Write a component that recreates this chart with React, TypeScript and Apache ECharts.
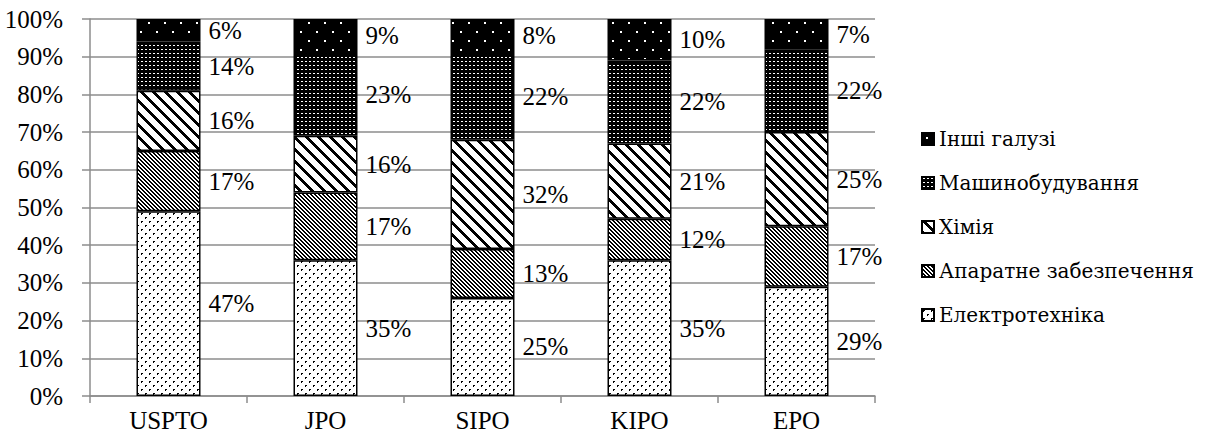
import React, { useEffect, useRef } from "react";
import * as echarts from "echarts";

const CATEGORIES = ["USPTO", "JPO", "SIPO", "KIPO", "EPO"];
const SERIES_NAMES = [
  "Електротехніка",
  "Апаратне забезпечення",
  "Хімія",
  "Машинобудування",
  "Інші галузі",
];
// Bar shares (%)
const ELECTRO = [49, 36, 26, 36, 29];
const HARDWARE = [16, 18, 13, 11, 16];
const CHEMISTRY = [16, 15, 29, 20, 25];
const MACHINERY = [13, 22, 23, 22, 22];
const OTHER = [6, 9, 9, 11, 8];
// Printed data labels (%)
const ELECTRO_LABELS = [47, 35, 25, 35, 29];
const HARDWARE_LABELS = [17, 17, 13, 12, 17];
const CHEMISTRY_LABELS = [16, 16, 32, 21, 25];
const MACHINERY_LABELS = [14, 23, 22, 22, 22];
const OTHER_LABELS = [6, 9, 8, 10, 7];
// Y axis
const Y_MIN = 0;
const Y_MAX = 100;
const Y_STEP = 10;

const FONT = "Liberation Serif";
const LEGEND_FONT = "DejaVu Serif";
const GRID_COLOR = "#8c8c8c";

function makeTile(w: number, h: number, pixel: (x: number, y: number) => boolean) {
  const c = document.createElement("canvas");
  c.width = w;
  c.height = h;
  const ctx = c.getContext("2d")!;
  const img = ctx.createImageData(w, h);
  for (let y = 0; y < h; y++) {
    for (let x = 0; x < w; x++) {
      const i = (y * w + x) * 4;
      const v = pixel(x, y) ? 0 : 255;
      img.data[i] = v;
      img.data[i + 1] = v;
      img.data[i + 2] = v;
      img.data[i + 3] = 255;
    }
  }
  ctx.putImageData(img, 0, 0);
  return { image: c, repeat: "repeat" } as any;
}

function buildPatterns() {
  const mod = (a: number, p: number) => ((a % p) + p) % p;
  // white with sparse black dots
  const dots = makeTile(8, 8, (x, y) =>
    (x >= 1 && x <= 2 && y === 1) || (x >= 5 && x <= 6 && y === 5) ||
    (x === 1 && y === 2) || (x === 5 && y === 6)
  );
  // narrow downward diagonal stripes
  const narrow = makeTile(4, 4, (x, y) => mod(x - y, 4) < 2);
  // wide downward diagonal stripes
  const wide = makeTile(12, 12, (x, y) => mod(x - y, 12) < 4);
  // black with small white grid squares
  const grid = makeTile(4, 4, (x, y) => !((x === 1 || x === 2) && y === 1));
  // black with sparse white dots
  const darkDots = makeTile(16, 18, (x, y) =>
    !((x >= 4 && x <= 5 && y >= 4 && y <= 5) || (x >= 12 && x <= 13 && y >= 13 && y <= 14))
  );
  return [dots, narrow, wide, grid, darkDots];
}

export default function App() {
  const ref = useRef<HTMLDivElement>(null);

  useEffect(() => {
    const chart = echarts.init(ref.current!, null, { renderer: "svg" });
    const patterns = buildPatterns();
    const values = [ELECTRO, HARDWARE, CHEMISTRY, MACHINERY, OTHER];
    const labels = [ELECTRO_LABELS, HARDWARE_LABELS, CHEMISTRY_LABELS, MACHINERY_LABELS, OTHER_LABELS];

    const series = SERIES_NAMES.map((name, si) => ({
      name,
      type: "bar",
      stack: "total",
      barWidth: 64,
      data: values[si],
      itemStyle: {
        color: patterns[si],
        borderColor: "#000",
        borderWidth: 1.5,
      },
      label: {
        show: true,
        position: "right",
        distance: 8,
        color: "#000",
        fontFamily: FONT,
        fontSize: 25,
        formatter: (p: any) => labels[si][p.dataIndex] + "%",
      },
      emphasis: { disabled: true },
    }));

    chart.setOption({
      animation: false,
      backgroundColor: "#fff",
      textStyle: { fontFamily: FONT },
      grid: { left: 90, right: 332, top: 19, bottom: 41, containLabel: false },
      legend: {
        orient: "vertical",
        left: 916,
        top: 124,
        itemWidth: 12,
        itemHeight: 12,
        itemGap: 24,
        icon: "rect",
        data: [...SERIES_NAMES].reverse(),
        textStyle: { fontFamily: LEGEND_FONT, fontSize: 20, color: "#000" },
      },
      xAxis: {
        type: "category",
        data: CATEGORIES,
        axisLine: { lineStyle: { color: GRID_COLOR, width: 1.5 } },
        axisTick: { show: true, length: 7, lineStyle: { color: GRID_COLOR, width: 1.5 } },
        axisLabel: { color: "#000", fontFamily: FONT, fontSize: 25, margin: 12 },
      },
      yAxis: {
        type: "value",
        min: Y_MIN,
        max: Y_MAX,
        interval: Y_STEP,
        axisLine: { show: true, lineStyle: { color: GRID_COLOR, width: 1.5 } },
        axisTick: { show: true, length: 8, lineStyle: { color: GRID_COLOR, width: 1.5 } },
        splitLine: { lineStyle: { color: GRID_COLOR, width: 1.5 } },
        axisLabel: {
          color: "#000",
          fontFamily: FONT,
          fontSize: 25,
          margin: 27,
          formatter: "{value}%",
        },
      },
      series,
    });

    return () => chart.dispose();
  }, []);

  return (
    <div
      ref={ref}
      style={{ position: "fixed", left: 0, top: 0, width: 1207, height: 437, background: "#fff" }}
    />
  );
}
